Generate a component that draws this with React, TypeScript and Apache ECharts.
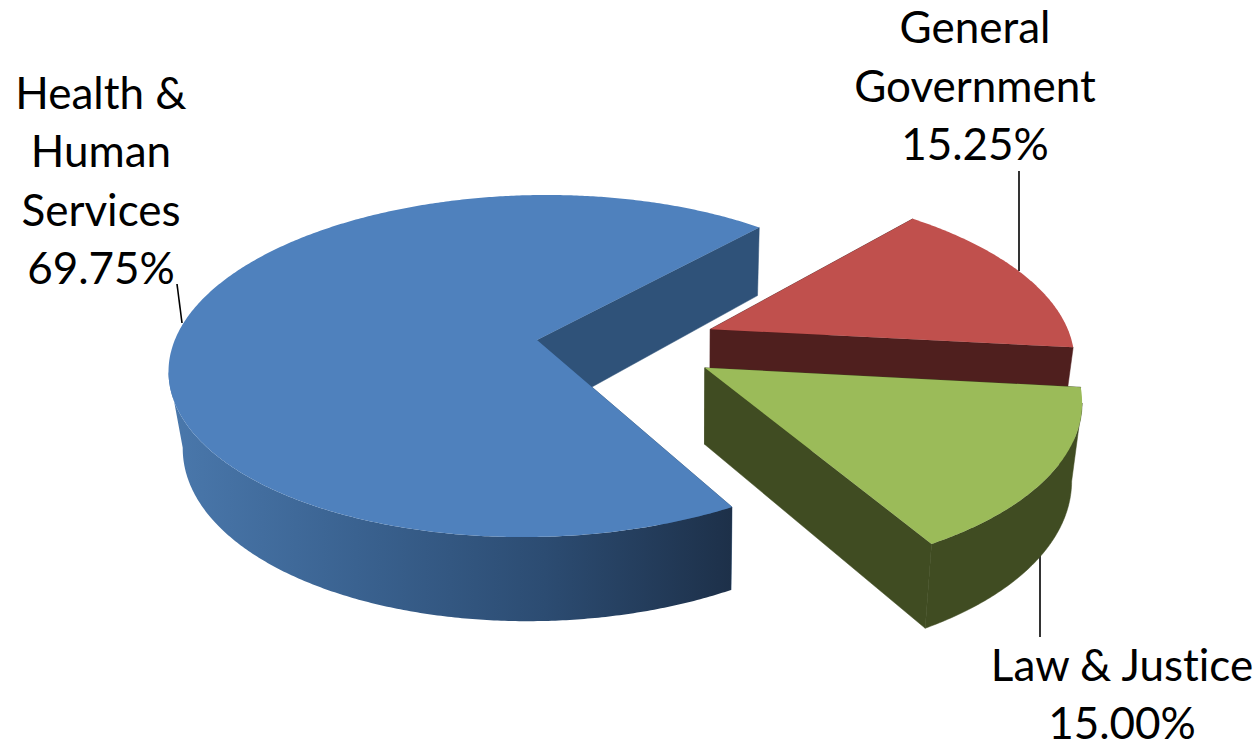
import React, { useEffect, useRef } from "react";
import * as echarts from "echarts";

// Budget shares, in the order they run around the pie (counter-clockwise).
const sliceNames = ["Health & Human Services", "Law & Justice", "General Government"];
const sliceValues = [69.75, 15.0, 15.25];
const topColors = ["#4F81BD", "#9BBB59", "#C0504D"];
const wallColors = ["#2F5279", "#404C22", "#4F1F1E"];
const rimStops = ["#4A78AC", "#3A6290", "#2C4C72", "#1D3049"];
const drawOrder = [0, 2, 1];

const healthLabel = ["Health &", "Human", "Services", "69.75%"];
const generalLabel = ["General", "Government", "15.25%"];
const lawLabel = ["Law & Justice", "15.00%"];

// Camera model for the tilted disc.
const FIRST_ANGLE = 46.8;
const EXPLODE = 0.25;
const ORIGIN = { x: 537, y: 340 };
const RADIUS_X = 362;
const RADIUS_Y = 167;
const PERSPECTIVE = 0.152;
const SKEW = 0.006;
const ROLL = 0.015;
const THICKNESS = 75;
const CONVERGE_X = 695;
const CONVERGE = 0.027;

const total = sliceValues.reduce((a, b) => a + b, 0);
const spans = sliceValues.map((v) => (v / total) * 360);
const starts = spans.map((_, i) => FIRST_ANGLE + spans.slice(0, i).reduce((a, b) => a + b, 0));

const rad = (d: number) => (d * Math.PI) / 180;

// The health slice's apex is the projection origin, so other apexes are relative to it.
const bisector = (i: number) => rad(starts[i] + spans[i] / 2);
const anchor = {
  u: EXPLODE * Math.cos(bisector(0)),
  v: EXPLODE * Math.sin(bisector(0)),
};

function project(u: number, v: number) {
  const w = 1 + PERSPECTIVE * v + SKEW * u;
  const x = ORIGIN.x + (RADIUS_X * u) / w;
  return { x, y: ORIGIN.y - (RADIUS_Y * v) / w - (x - ORIGIN.x) * ROLL, w };
}

function drop(p: { x: number; y: number; w: number }): number[] {
  return [
    p.x - (p.x - CONVERGE_X) * CONVERGE,
    p.y + THICKNESS * (1 + 0.8 * (1 - p.w)),
  ];
}

function sliceShapes(i: number) {
  const ou = EXPLODE * Math.cos(bisector(i)) - anchor.u;
  const ov = EXPLODE * Math.sin(bisector(i)) - anchor.v;
  const apex = project(ou, ov);
  const rim: { x: number; y: number; w: number }[] = [];
  const steps = Math.ceil(spans[i] * 2);
  for (let s = 0; s <= steps; s++) {
    const a = rad(starts[i] + (spans[i] * s) / steps);
    rim.push(project(ou + Math.cos(a), ov + Math.sin(a)));
  }
  const first = rim[0];
  const last = rim[rim.length - 1];

  const radialWall = (p: typeof apex) => ({
    type: "polygon",
    shape: { points: [[apex.x, apex.y], [p.x, p.y], drop(p), drop(apex)] },
    style: { fill: wallColors[i], stroke: wallColors[i], lineWidth: 0.5 },
  });

  // Only the stretch of rim moving rightwards on screen faces the viewer.
  const front = rim.filter(
    (p, k) => (k > 0 && p.x > rim[k - 1].x) || (k + 1 < rim.length && rim[k + 1].x > p.x)
  );
  const children: any[] = [radialWall(last), radialWall(first)];
  if (front.length > 1) {
    const fill =
      i === 0
        ? new echarts.graphic.LinearGradient(
            0, 0, 1, 0,
            rimStops.map((color, k) => ({ offset: k / (rimStops.length - 1), color }))
          )
        : wallColors[i];
    children.push({
      type: "polygon",
      shape: {
        points: [
          ...front.map((p) => [p.x, p.y]),
          ...front.slice().reverse().map((p) => drop(p)),
        ],
      },
      style: { fill, stroke: i === 0 ? undefined : wallColors[i], lineWidth: 0.5 },
    });
  }
  children.push({
    type: "polygon",
    shape: { points: [[apex.x, apex.y], ...rim.map((p) => [p.x, p.y])] },
    style: { fill: topColors[i] },
  });
  return children;
}

const LINE_GAP = 58.5;
const labelLines = (lines: string[], x: number, y: number) =>
  lines.map((text, k) => ({
    type: "text",
    style: {
      text,
      x,
      y: y + k * LINE_GAP,
      fontFamily: "Lato",
      fontSize: 44,
      lineHeight: 44,
      fill: "#000000",
      align: "center",
      verticalAlign: "middle",
    },
  }));

const leaderStyle = { stroke: "#000000", lineWidth: 1.6 };

export default function App() {
  const ref = useRef<HTMLDivElement>(null);

  useEffect(() => {
    document.body.style.margin = "0";
    const chart = echarts.init(ref.current!, undefined, { renderer: "svg" });
    chart.setOption({
      animation: false,
      backgroundColor: "#ffffff",
      series: [
        {
          type: "custom",
          coordinateSystem: "none",
          silent: true,
          data: drawOrder.map((i) => ({ name: sliceNames[i], value: [sliceValues[i], i] })),
          renderItem: (_params: any, api: any) => ({
            type: "group",
            children: sliceShapes(api.value(1)),
          }),
        },
      ],
      graphic: [
        ...labelLines(healthLabel, 101, 91.5),
        ...labelLines(generalLabel, 975, 26),
        ...labelLines(lawLabel, 1122, 663.5),
        { type: "line", shape: { x1: 177, y1: 284, x2: 182, y2: 323 }, style: leaderStyle },
        { type: "line", shape: { x1: 1019, y1: 171, x2: 1019, y2: 271 }, style: leaderStyle },
        { type: "line", shape: { x1: 1040, y1: 552, x2: 1040, y2: 637 }, style: leaderStyle },
      ],
    });
    return () => chart.dispose();
  }, []);

  return <div ref={ref} style={{ width: 1258, height: 748, fontVariantLigatures: "none" }} />;
}
